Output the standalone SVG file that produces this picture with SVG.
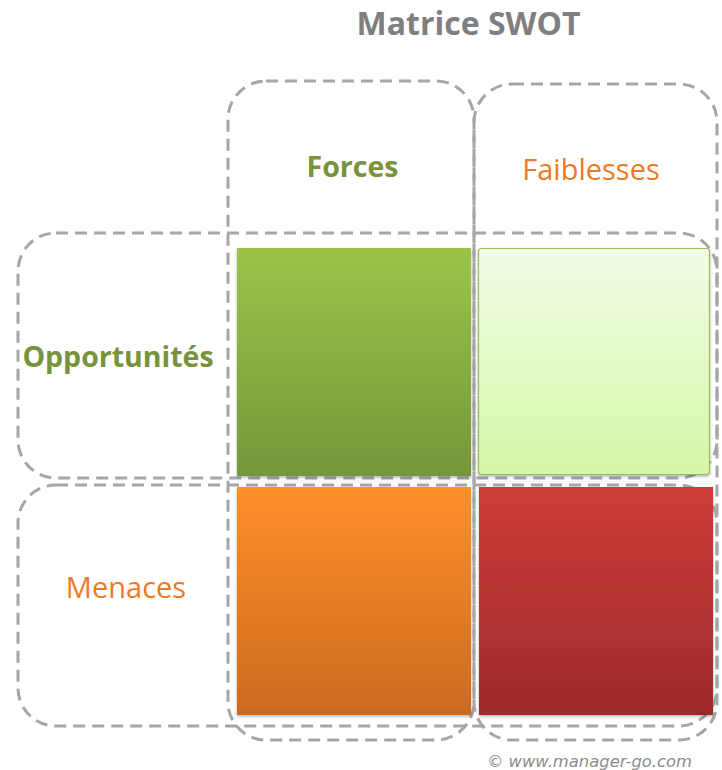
<svg xmlns="http://www.w3.org/2000/svg" width="722" height="770" viewBox="0 0 722 770">
<defs>
<style>
.dash{fill:none;stroke:#a6a6a6;stroke-width:3;stroke-dasharray:12 7}
.title{font-family:"Open Sans","Liberation Sans",sans-serif;font-weight:bold;font-size:32px;fill:#7f7f7f;text-anchor:middle}
.green{font-family:"Open Sans","Liberation Sans",sans-serif;font-weight:bold;font-size:28.5px;fill:#77933c;text-anchor:middle}
.orange{font-family:"Open Sans","Liberation Sans",sans-serif;font-size:29px;fill:#ee7a24;text-anchor:middle}
.copy{font-family:"DejaVu Sans",sans-serif;font-style:italic;font-size:15px;fill:#8c8c8c}
</style>
<linearGradient id="gGreen" x1="0" y1="0" x2="0" y2="1"><stop offset="0" stop-color="#9cc44b"/><stop offset="1" stop-color="#76963a"/></linearGradient>
<linearGradient id="gLight" x1="0" y1="0" x2="0" y2="1"><stop offset="0" stop-color="#f1fce7"/><stop offset="1" stop-color="#d6f7a8"/></linearGradient>
<linearGradient id="gOrange" x1="0" y1="0" x2="0" y2="1"><stop offset="0" stop-color="#fe902b"/><stop offset="1" stop-color="#cb6a1f"/></linearGradient>
<linearGradient id="gRed" x1="0" y1="0" x2="0" y2="1"><stop offset="0" stop-color="#ce3c39"/><stop offset="1" stop-color="#9c2a2b"/></linearGradient>
<filter id="sh" x="-5%" y="-5%" width="110%" height="110%"><feDropShadow dx="0" dy="1.5" stdDeviation="1.5" flood-color="#000" flood-opacity="0.3"/></filter>
</defs>
<rect width="722" height="770" fill="#ffffff"/>
<text class="title" x="468.5" y="35">Matrice SWOT</text>
<g id="col-forces"><rect class="dash" x="228" y="81" width="246" height="659" rx="38"/><text class="green" x="352.5" y="177">Forces</text></g>
<g id="col-faiblesses"><rect class="dash" x="474" y="84" width="243" height="656" rx="38"/><text class="orange" x="591" y="180">Faiblesses</text></g>
<g id="row-opportunites"><rect class="dash" x="18" y="233" width="699" height="245" rx="38"/><text class="green" x="118" y="367">Opportunités</text></g>
<g id="row-menaces"><rect class="dash" x="18" y="485" width="699" height="241" rx="38"/><text class="orange" x="126" y="598">Menaces</text></g>
<g id="cell-fo"><rect x="237" y="248" width="234" height="228" fill="url(#gGreen)" filter="url(#sh)"/></g>
<g id="cell-wo"><rect x="478.5" y="248.5" width="231" height="226" rx="3" fill="url(#gLight)" stroke="#9bbb59" stroke-width="1.2" filter="url(#sh)"/></g>
<g id="cell-fm"><rect x="237" y="487" width="234" height="228" fill="url(#gOrange)" filter="url(#sh)"/></g>
<g id="cell-wm"><rect x="479" y="487" width="234" height="228" fill="url(#gRed)" filter="url(#sh)"/></g>
<text class="copy" x="487" y="767" textLength="205" lengthAdjust="spacingAndGlyphs">© www.manager-go.com</text>
</svg>
